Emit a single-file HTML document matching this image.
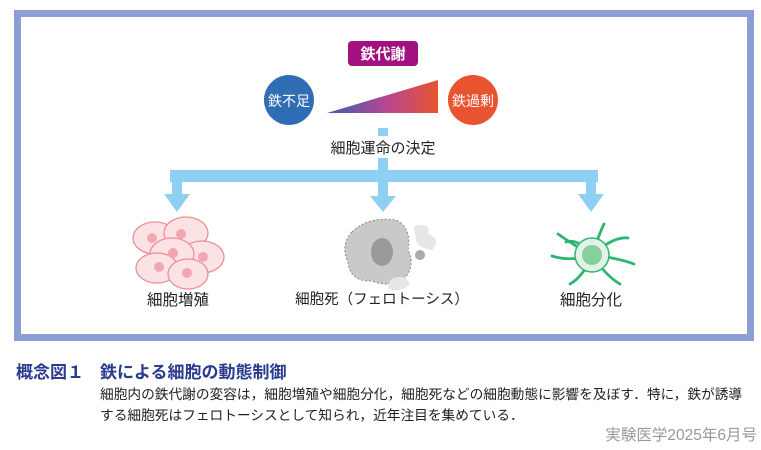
<!DOCTYPE html>
<html><head><meta charset="utf-8"><style>
body{margin:0;width:761px;height:450px;background:#fff;position:relative;font-family:"Liberation Sans","Noto Sans CJK JP",sans-serif;overflow:hidden}
.t{position:absolute;white-space:nowrap}
</style></head><body>
<svg width="761" height="450" style="position:absolute;left:0;top:0">
<defs><linearGradient id="g" x1="0" x2="1"><stop offset="0" stop-color="#3a5fb0"/><stop offset="0.55" stop-color="#b8468f"/><stop offset="1" stop-color="#e8542f"/></linearGradient></defs>
<rect x="17.5" y="13.5" width="733" height="324" fill="none" stroke="#8c9fd4" stroke-width="7"/>
<rect x="348" y="41" width="70" height="25" rx="4" fill="#a2117f"/>
<circle cx="289" cy="100" r="25" fill="#2f6db4"/>
<circle cx="473" cy="100" r="25" fill="#e8542f"/>
<polygon points="327,113 438,80 438,113" fill="url(#g)"/>
<g fill="#8fd0f2">
<rect x="378" y="128" width="10" height="8"/>
<rect x="378" y="157" width="10" height="40"/>
<rect x="170" y="170" width="428" height="12"/>
<rect x="172" y="170" width="10" height="26"/><polygon points="164,194 190,194 177,212"/>
<polygon points="370,196 396,196 383,212"/>
<rect x="586" y="170" width="10" height="26"/><polygon points="578,194 604,194 591,212"/>
</g>
<g fill="#fbe3e5" stroke="#ee8f95" stroke-width="1.3">
<ellipse cx="155" cy="238" rx="22" ry="16"/><ellipse cx="186" cy="233" rx="22" ry="16"/>
<ellipse cx="202" cy="257" rx="22" ry="16"/><ellipse cx="172" cy="254" rx="22" ry="16"/>
<ellipse cx="157" cy="268" rx="21" ry="15"/><ellipse cx="188" cy="274" rx="20" ry="15"/>
</g>
<g fill="#f2a7b0"><circle cx="152" cy="238" r="5"/><circle cx="181" cy="234" r="5"/><circle cx="203" cy="257" r="5"/><circle cx="173" cy="253" r="5"/><circle cx="159" cy="267" r="5"/><circle cx="187" cy="273" r="5"/></g>
<path d="M352 232 Q368 216 396 220 Q412 228 408 250 Q416 266 404 279 Q390 288 372 281 Q350 282 348 262 Q340 245 352 232Z" fill="#c9c9c9" stroke="#888" stroke-width="1" stroke-dasharray="2,2"/>
<path d="M414 226 Q432 222 428 234 Q442 240 432 250 Q418 248 416 240Z" fill="#e6e6e6"/>
<path d="M390 280 Q404 272 410 284 Q400 294 388 288Z" fill="#e6e6e6"/>
<ellipse cx="382" cy="252" rx="11" ry="14" fill="#9a9a9a"/>
<circle cx="420" cy="255" r="5" fill="#aaa"/>
<g fill="none" stroke="#2fb56f" stroke-width="2.8" stroke-linecap="round">
<path d="M592 255 Q578 238 566 242"/><path d="M592 255 Q600 232 604 224"/><path d="M592 255 Q614 236 628 238"/>
<path d="M592 255 Q618 258 634 264"/><path d="M592 255 Q606 276 620 284"/><path d="M592 255 Q584 276 570 284"/>
<path d="M592 255 Q570 262 552 256"/><path d="M592 255 Q578 248 558 234"/>
</g>
<circle cx="592" cy="255" r="17" fill="#dff3e6" stroke="#2fb56f" stroke-width="1.5"/>
<circle cx="592" cy="255" r="10" fill="#88cfa0"/>
</svg>
<div class="t" style="left:348px;top:43px;width:70px;text-align:center;color:#fff;font-size:15px;font-weight:bold">鉄代謝</div>
<div class="t" style="left:262px;top:91px;width:54px;text-align:center;color:#fff;font-size:14px">鉄不足</div>
<div class="t" style="left:446px;top:91px;width:54px;text-align:center;color:#fff;font-size:14px">鉄過剰</div>
<div class="t" style="left:326px;top:137px;width:114px;text-align:center;color:#222;font-size:15px;background:#fff">細胞運命の決定</div>
<div class="t" style="left:118px;top:288px;width:120px;text-align:center;color:#222;font-size:15.5px">細胞増殖</div>
<div class="t" style="left:282px;top:288px;width:200px;text-align:center;color:#222;font-size:14.5px">細胞死（フェロトーシス）</div>
<div class="t" style="left:531px;top:288px;width:120px;text-align:center;color:#222;font-size:15.5px">細胞分化</div>
<div class="t" style="left:16px;top:358px;color:#2a3a8f;font-size:17px;font-weight:bold">概念図１</div>
<div class="t" style="left:100px;top:358px;color:#2a3a8f;font-size:17px;font-weight:bold">鉄による細胞の動態制御</div>
<div class="t" style="left:100px;top:383px;color:#222;font-size:13.7px">細胞内の鉄代謝の変容は，細胞増殖や細胞分化，細胞死などの細胞動態に影響を及ぼす．特に，鉄が誘導</div>
<div class="t" style="left:100px;top:404px;color:#222;font-size:13.7px">する細胞死はフェロトーシスとして知られ，近年注目を集めている．</div>
<div class="t" style="right:4px;top:423px;color:#999;font-size:15.5px">実験医学2025年6月号</div>
</body></html>
